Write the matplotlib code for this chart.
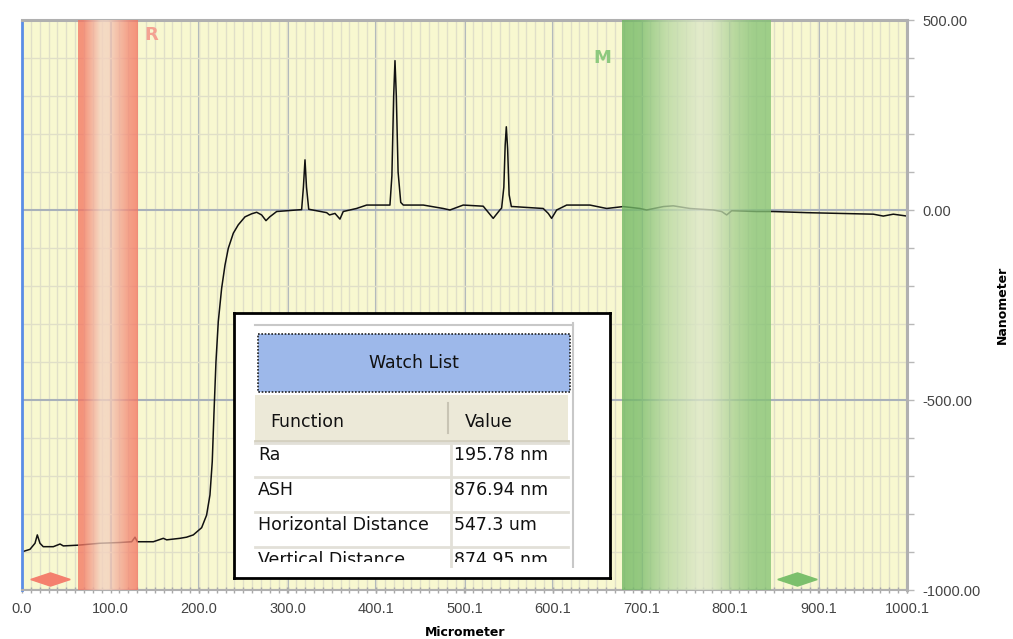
import numpy as np
import matplotlib
matplotlib.use("Agg")
import matplotlib.pyplot as plt
from matplotlib.colors import LinearSegmentedColormap
from matplotlib.patches import Rectangle

# ── Data ──────────────────────────────────────────────────────────────────────
# surface profile (x in micrometer, y in nanometer)
profile_x = [0.8, 9.0, 14.7, 17.3, 20.3, 24.0, 35.4, 43.0, 46.7, 63.6, 88.0,
             110.7, 124.0, 127.7, 130.3, 148.4, 159.7, 163.5, 178.5, 186.0,
             193.6, 203.0, 208.6, 212.4, 215.0, 217.0, 219.2, 221.8, 225.6,
             229.4, 233.1, 238.8, 244.4, 252.0, 259.5, 265.2, 270.8, 275.7,
             280.0, 287.8, 299.0, 310.0, 316.0, 318.0, 319.8, 321.5, 324.0,
             333.0, 344.3, 347.5, 353.7, 359.3, 363.0, 378.0, 389.5, 400.8,
             415.8, 418.0, 420.0, 421.5, 423.0, 425.0, 428.0, 430.9, 453.5,
             476.0, 483.6, 498.6, 521.2, 532.5, 540.0, 542.0, 544.5, 546.0,
             547.3, 548.8, 550.5, 553.0, 555.0, 589.0, 594.7, 598.5, 604.2,
             615.5, 641.8, 660.7, 679.4, 698.3, 705.9, 724.6, 736.0, 754.8,
             781.2, 790.6, 796.3, 802.0, 830.0, 849.0, 886.7, 924.3, 962.0,
             973.3, 984.6, 1000.0]
profile_y = [-899, -893, -877, -855, -877, -886, -886, -879, -884, -882, -877,
             -875, -873, -861, -873, -873, -864, -868, -864, -861,
             -855, -836, -803, -750, -662, -531, -399, -294, -206,
             -145, -101, -61, -39, -18, -10, -6, -13, -28,
             -18, -4, -2, 0, 1, 60, 132, 60, 2,
             -2, -7, -13, -9, -24, -4, 4, 13, 13,
             13, 90, 300, 393, 300, 100, 20, 13, 13,
             4, 0, 13, 10, -22, 0, 5, 60, 170,
             219, 160, 40, 9, 9, 4, -9, -22, 0,
             13, 13, 4, 9, 4, 0, 9, 11, 4,
             0, -4, -13, -2, -4, -4, -7, -9, -11,
             -16, -11, -16]

x_tick_labels = ["0.0", "100.0", "200.0", "300.0", "400.1", "500.1",
                 "600.1", "700.1", "800.1", "900.1", "1000.1"]
y_ticks = [-1000, -500, 0, 500]
y_tick_labels = ["-1000.00", "-500.00", "0.00", "500.00"]

ref_band = (63.3, 130.0)     # R cursor
meas_band = (678.0, 846.0)   # M cursor
ref_arrows_x = [19.8, 42.9]
meas_arrows_x = [864.4, 887.0]
arrows_y = -972

watch_functions = ["Ra", "ASH", "Horizontal Distance", "Vertical Distance"]
watch_values = ["195.78 nm", "876.94 nm", "547.3 um", "874.95 nm"]

# ── Style ─────────────────────────────────────────────────────────────────────
BG        = "#F8F8D0"
GRID_MAJ  = "#A9B1BA"
GRID_MIN  = "#E0DFC8"
LABEL_CLR = "#444444"
RED_DARK, RED_LIGHT = "#F47662", "#F4D2C0"
GRN_LIGHT = "#DDE7C9"

red_cmap = LinearSegmentedColormap.from_list("r", [
    (0.0, RED_DARK), (0.08, RED_DARK), (0.38, RED_LIGHT), (0.5, RED_LIGHT),
    (0.85, "#F48874"), (1.0, RED_DARK)])
grn_cmap = LinearSegmentedColormap.from_list("g", [
    (0.0, "#6EB660"), (0.12, "#78BC6A"), (0.3, "#B5D7A0"), (0.52, GRN_LIGHT),
    (0.6, "#D6E4C2"), (0.75, "#A8D092"), (0.88, "#88C478"), (1.0, "#84C273")])

W, H = 1013, 639
fig = plt.figure(figsize=(W / 100, H / 100), dpi=100)
ax = fig.add_axes([22 / W, 49 / H, 885 / W, 570 / H])
ax.set_facecolor(BG)

ax.plot(profile_x, profile_y, color="#111111", linewidth=1.1, zorder=2)

grad = np.linspace(0, 1, 256)[None, :]
for (x0, x1), cmap in [(ref_band, red_cmap), (meas_band, grn_cmap)]:
    ax.imshow(grad, extent=[x0, x1, -1000, 500], aspect="auto", cmap=cmap,
              alpha=0.78, zorder=3, interpolation="bilinear")

tri_left = [(-0.75, 0), (0.75, 0.5), (0.75, -0.5), (-0.75, 0)]
tri_right = [(0.75, 0), (-0.75, 0.5), (-0.75, -0.5), (0.75, 0)]
for xs, c in [(ref_arrows_x, "#F4806E"), (meas_arrows_x, "#7CC06C")]:
    ax.plot([xs[0]], [arrows_y], marker=tri_left, ms=14, color=c,
            ls="none", zorder=4, clip_on=False)
    ax.plot([xs[1]], [arrows_y], marker=tri_right, ms=14, color=c,
            ls="none", zorder=4, clip_on=False)

ax.text(145.8, 460, "R", color="#F4A292", fontsize=13, fontweight="bold",
        ha="center", va="center", zorder=5)
ax.text(655.4, 400, "M", color="#8DC97E", fontsize=13, fontweight="bold",
        ha="center", va="center", zorder=5)

ax.set_xlim(0, 1000.1)
ax.set_ylim(-1000, 500)
ax.set_xticks(np.linspace(0, 1000.1, 11))
ax.set_xticklabels(x_tick_labels, fontfamily="Liberation Sans")
ax.set_xticks(np.arange(0, 1000.1, 10), minor=True)
ax.yaxis.tick_right()
ax.set_yticks(y_ticks)
ax.set_yticklabels(y_tick_labels, fontfamily="Liberation Sans")
ax.set_yticks(np.arange(-1000, 501, 100), minor=True)
ax.set_axisbelow(True)
ax.grid(which="minor", color=GRID_MIN, linewidth=1.0)
ax.grid(which="major", color=GRID_MAJ, linewidth=1.5)

ax.tick_params(axis="x", which="both", direction="inout", length=5,
               color="#A8A8A8", width=1, labelsize=10.5, labelcolor=LABEL_CLR,
               pad=6)
ax.tick_params(axis="y", which="both", direction="out", length=5,
               color="#B8B8B8", width=1, labelsize=10.5, labelcolor=LABEL_CLR,
               right=True, left=False, pad=6)

ax.spines["left"].set_color("#5B8EE6")
ax.spines["left"].set_linewidth(2)
for s in ["top", "right"]:
    ax.spines[s].set_color("#B0B0B0")
    ax.spines[s].set_linewidth(2.2)
ax.spines["bottom"].set_color("#B0B0B0")
ax.spines["bottom"].set_linewidth(1.5)

fig.text(465 / W, 1 - 632 / H, "Micrometer", fontsize=9, fontweight="bold",
         ha="center", va="center")
fig.text(1002 / W, 1 - 305 / H, "Nanometer", fontsize=9, fontweight="bold",
         rotation=90, ha="center", va="center")

# ── Watch List inset ──────────────────────────────────────────────────────────
BX, BY, BW, BH = 234, 313, 376, 265
box = fig.add_axes([BX / W, 1 - (BY + BH) / H, BW / W, BH / H])
box.set_facecolor("white")
box.set_xticks([])
box.set_yticks([])
for s in box.spines.values():
    s.set_color("black")
    s.set_linewidth(2)


def panel_axes(height):
    # axes in box pixel coords (origin top-left), clipped at `height`
    a = fig.add_axes([BX / W, 1 - (BY + height) / H, BW / W, height / H])
    a.set_xlim(0, BW)
    a.set_ylim(height, 0)
    a.axis("off")
    a.patch.set_alpha(0)
    return a


wl = panel_axes(255.3)     # frame lines
wt = panel_axes(249.0)     # texts, last row cut off like the widget

TFONT = dict(fontsize=12.5, color="#111111", clip_on=True)
wl.plot([21, 339], [12, 12], color="#C8C8C8", lw=1.5)
wl.plot([339, 339], [10, 255.3], color="#C8C8C8", lw=1.5)
wl.add_patch(Rectangle((24.3, 21), 311.7, 57.7, facecolor="#9DB8EA",
                       edgecolor="#222222", lw=1.2, ls=(0, (1, 1))))
wl.add_patch(Rectangle((21, 82), 313, 46.7, facecolor="#ECE9D8",
                       edgecolor="none"))
wl.plot([21, 334], [128, 128], color="#D4D0C0", lw=2)
wl.plot([214, 214], [90, 120], color="#C8C4B4", lw=1.5)
for yb in [130, 164, 199, 234]:
    wl.plot([21, 334], [yb, yb], color="#E2E0D8", lw=2)
wl.plot([216.7, 216.7], [130, 255.3], color="#E2E0D8", lw=2)

wt.text(180, 50, "Watch List", ha="center", va="center", **TFONT)
wt.text(36, 108.7, "Function", ha="left", va="center", **TFONT)
wt.text(231, 108.7, "Value", ha="left", va="center", **TFONT)
for i, (fn, val) in enumerate(zip(watch_functions, watch_values)):
    yb = 147 + 35 * i
    wt.text(24.3, yb, fn, ha="left", va="baseline", **TFONT)
    wt.text(220, yb, val, ha="left", va="baseline", **TFONT)

fig.savefig("out.png", dpi=100)
